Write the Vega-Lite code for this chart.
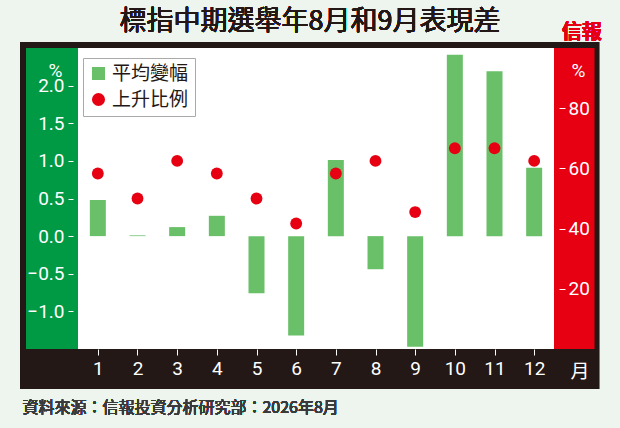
{
  "$schema": "https://vega.github.io/schema/vega-lite/v6.json",
  "autosize": "none",
  "width": 486,
  "height": 301,
  "padding": {"left": 73, "top": 48, "right": 61, "bottom": 79},
  "background": "#eef5ee",
  "config": {"view": {"fill": "white", "stroke": null}, "font": "Roboto"},
  "data": {"values": [
    {"month": 1, "chg": 0.48, "up": 58.3},
    {"month": 2, "chg": 0.01, "up": 50.0},
    {"month": 3, "chg": 0.12, "up": 62.5},
    {"month": 4, "chg": 0.27, "up": 58.3},
    {"month": 5, "chg": -0.76, "up": 50.0},
    {"month": 6, "chg": -1.32, "up": 41.7},
    {"month": 7, "chg": 1.01, "up": 58.3},
    {"month": 8, "chg": -0.44, "up": 62.5},
    {"month": 9, "chg": -1.47, "up": 45.5},
    {"month": 10, "chg": 2.41, "up": 66.7},
    {"month": 11, "chg": 2.19, "up": 66.7},
    {"month": 12, "chg": 0.91, "up": 62.5}
  ]},
  "resolve": {"scale": {"y": "independent"}},
  "layer": [
    {
      "encoding": {
        "x": {"type": "quantitative", "scale": {"domain": [0.5, 12.5]}},
        "y": {"type": "quantitative", "scale": {"domain": [-1.5, 2.5]}}
      },
      "layer": [
        {"mark": {"type": "rect", "color": "#231815", "clip": false},
         "encoding": {"x": {"datum": -0.957}, "x2": {"datum": 13.636}, "y": {"datum": 2.5}, "y2": {"datum": 2.58}}},
        {"mark": {"type": "rect", "color": "#231815", "clip": false},
         "encoding": {"x": {"datum": -0.957}, "x2": {"datum": 13.636}, "y": {"datum": -1.5}, "y2": {"datum": -2.03}}},
        {"mark": {"type": "rect", "color": "#231815", "clip": false},
         "encoding": {"x": {"datum": -0.957}, "x2": {"datum": -0.809}, "y": {"datum": -1.5}, "y2": {"datum": 2.5}}},
        {"mark": {"type": "rect", "color": "#231815", "clip": false},
         "encoding": {"x": {"datum": 13.51}, "x2": {"datum": 13.636}, "y": {"datum": -1.5}, "y2": {"datum": 2.5}}},
        {"mark": {"type": "rect", "color": "#009944", "clip": false},
         "encoding": {"x": {"datum": -0.809}, "x2": {"datum": 0.5}, "y": {"datum": -1.5}, "y2": {"datum": 2.5}}},
        {"mark": {"type": "rect", "color": "#e60012", "clip": false},
         "encoding": {"x": {"datum": 12.5}, "x2": {"datum": 13.51}, "y": {"datum": -1.5}, "y2": {"datum": 2.5}}},
        {"mark": {"type": "text", "text": "標指中期選舉年8月和9月表現差", "color": "#231815", "font": "Noto Sans CJK TC", "fontWeight": "normal", "fontSize": 27, "clip": false, "align": "center", "baseline": "middle"},
         "encoding": {"x": {"datum": 6.35}, "y": {"datum": 2.84}}},
        {"mark": {"type": "text", "text": "信報", "color": "#e60012", "font": "Noto Sans CJK TC", "fontWeight": "bold", "fontSize": 20, "clip": false, "align": "center", "baseline": "middle"},
         "encoding": {"x": {"datum": 13.2}, "y": {"datum": 2.7}}},
        {"mark": {"type": "text", "text": "資料來源：信報投資分析研究部：2026年8月", "color": "#3a3a3a", "font": "Noto Sans CJK TC", "fontWeight": "normal", "fontSize": 16, "clip": false, "align": "left", "baseline": "middle"},
         "encoding": {"x": {"datum": -0.9}, "y": {"datum": -2.29}}},
        {
          "mark": {"type": "bar", "size": 16},
          "encoding": {
            "x": {"field": "month", "type": "quantitative", "scale": {"domain": [0.5, 12.5]},
              "axis": {"values": [1,2,3,4,5,6,7,8,9,10,11,12], "grid": false, "domain": false, "tickColor": "white", "tickSize": 6, "labelColor": "white", "labelFontSize": 19, "labelPadding": 4, "zindex": 1,
                "title": "月", "titleColor": "white", "titleFont": "Noto Sans CJK TC", "titleFontSize": 19, "titleFontWeight": "normal", "titleX": 497, "titleY": 22, "titleBaseline": "middle", "titleAnchor": "start"}},
            "y": {"field": "chg", "type": "quantitative", "scale": {"domain": [-1.5, 2.5]},
              "axis": {"values": [-1, -0.5, 0, 0.5, 1, 1.5, 2], "format": ".1f", "domain": false, "tickColor": "white", "tickSize": 5, "labelColor": "white", "labelFontSize": 19, "labelPadding": 4, "gridColor": "#b5b5b5", "gridDash": [3, 3], "gridWidth": 0.8, "zindex": 1,
                "title": "%", "titleAngle": 0, "titleColor": "white", "titleFontSize": 19, "titleFontWeight": "normal", "titleX": -18, "titleY": 22, "titleBaseline": "middle", "titleAlign": "center"}},
            "color": {"datum": "平均變幅", "type": "nominal", "scale": {"domain": ["平均變幅", "上升比例"], "range": ["#6abf69", "#e60012"]},
              "legend": {"title": null, "orient": "top-left", "offset": 10, "fillColor": "white", "strokeColor": "#aaaaaa", "padding": 6, "labelFont": "Noto Sans CJK TC", "labelFontSize": 19, "labelColor": "#231815", "symbolSize": 170, "rowPadding": 6,
                "encode": {"symbols": {"update": {"shape": {"signal": "datum.value === '平均變幅' ? 'square' : 'circle'"}}}}}}
          }
        }
      ]
    },
    {
      "mark": {"type": "point", "filled": true, "size": 140, "opacity": 1, "shape": "circle"},
      "encoding": {
        "x": {"field": "month", "type": "quantitative", "scale": {"domain": [0.5, 12.5]}},
        "y": {"field": "up", "type": "quantitative", "scale": {"domain": [0, 100]},
          "axis": {"orient": "right", "values": [20, 40, 60, 80], "grid": false, "domain": false, "tickColor": "white", "tickSize": 6, "labelColor": "white", "labelFontSize": 19, "labelPadding": 3, "zindex": 1,
            "title": "%", "titleAngle": 0, "titleColor": "white", "titleFontSize": 19, "titleFontWeight": "normal", "titleX": 19, "titleY": 22, "titleBaseline": "middle", "titleAlign": "center"}},
        "color": {"datum": "上升比例", "type": "nominal"}
      }
    }
  ]
}
